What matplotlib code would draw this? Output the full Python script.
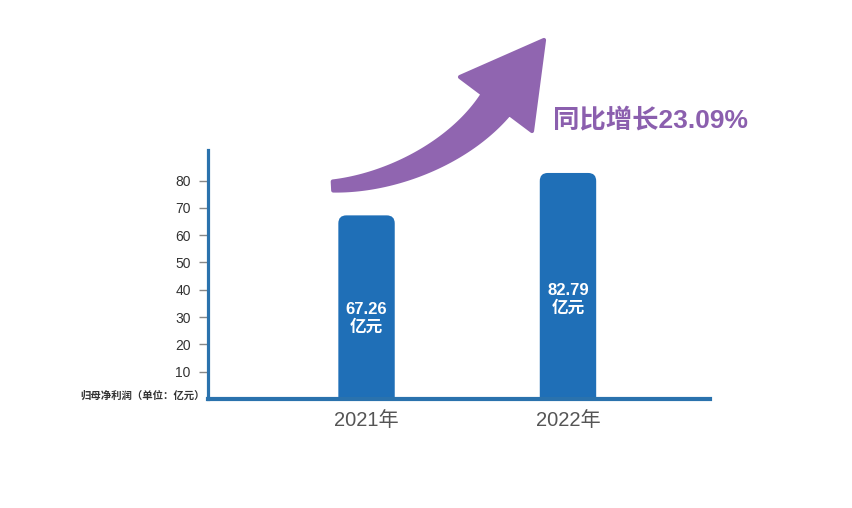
import numpy as np
import matplotlib
matplotlib.use("Agg")
import matplotlib.pyplot as plt
from matplotlib.patches import FancyBboxPatch, Polygon

plt.rcParams['font.family'] = ['Liberation Sans', 'Noto Sans CJK SC', 'DejaVu Sans']

# chart data
years = ['2021年', '2022年']
profit = [67.26, 82.79]
bar_labels = ['67.26\n亿元', '82.79\n亿元']
y_ticks = [10, 20, 30, 40, 50, 60, 70, 80]
unit_label = '归母净利润（单位：亿元）'
growth_label = '同比增长23.09%'

BAR_COLOR = '#1f6fb7'
AXIS_COLOR = '#2a72ad'
PURPLE = '#9065b0'

W, H = 852, 508
fig = plt.figure(figsize=(W / 100, H / 100), dpi=100)
ax = fig.add_axes([208 / W, 1 - 399 / H, (710 - 208) / W, (399 - 150) / H])

x = np.arange(len(years))
xlim = (-0.787, 1.705)
ylim = (0, 91.2)
ax.set_xlim(*xlim)
ax.set_ylim(*ylim)

# plain bars first, then swap them for rounded-top boxes
bars = ax.bar(x, profit, width=0.28, color=BAR_COLOR)
px_x = ax.bbox.width / (xlim[1] - xlim[0])
px_y = ax.bbox.height / (ylim[1] - ylim[0])
aspect = px_x / px_y
radius = 8 / px_x
for b in bars:
    x0, w, h = b.get_x(), b.get_width(), b.get_height()
    b.remove()
    ax.add_patch(FancyBboxPatch((x0, -5), w, h + 5,
                                boxstyle=f"round,pad=0,rounding_size={radius}",
                                mutation_aspect=aspect, facecolor=BAR_COLOR,
                                edgecolor='none', zorder=2))

for xi, v, lab in zip(x, profit, bar_labels):
    ax.text(xi, v * 0.44, lab, ha='center', va='center', color='white',
            fontsize=12, fontweight='bold', linespacing=1.15, zorder=3)

for side in ['top', 'right']:
    ax.spines[side].set_visible(False)
ax.spines['left'].set_color(AXIS_COLOR)
ax.spines['left'].set_linewidth(2.3)
ax.spines['bottom'].set_color(AXIS_COLOR)
ax.spines['bottom'].set_linewidth(3)
ax.spines['bottom'].set_zorder(4)

ax.set_yticks(y_ticks)
ax.tick_params(axis='y', length=6.5, width=1, color='#888888', pad=6,
               labelsize=10, labelcolor='#333333')
ax.set_xticks(x, years)
ax.tick_params(axis='x', length=0, pad=9, labelsize=14.5, labelcolor='#555555')

ax.text(-0.006, 1.2, unit_label, transform=ax.get_yaxis_transform(),
        ha='right', va='center', fontsize=7.5, fontweight='bold', color='#333333')

# overlay in pixel coordinates for the growth arrow
ov = fig.add_axes([0, 0, 1, 1])
ov.set_xlim(0, W)
ov.set_ylim(H, 0)
ov.axis('off')

P0 = np.array([333.0, 186.0])
P1 = np.array([392.0, 183.0])
P2 = np.array([460.0, 152.0])
P3 = np.array([496.0, 104.0])
t = np.linspace(0, 1, 100)[:, None]
c = ((1 - t) ** 3 * P0 + 3 * (1 - t) ** 2 * t * P1
     + 3 * (1 - t) * t ** 2 * P2 + t ** 3 * P3)
d = (3 * (1 - t) ** 2 * (P1 - P0) + 6 * (1 - t) * t * (P2 - P1)
     + 3 * t ** 2 * (P3 - P2))
d = d / np.linalg.norm(d, axis=1, keepdims=True)
n = np.column_stack([-d[:, 1], d[:, 0]])
hw = 4.5 + 12.0 * t[:, 0]
side_a = c + n * hw[:, None]
side_b = c - n * hw[:, None]
dE, nE = d[-1], n[-1]
left_wing = P3 - nE * 45
right_wing = P3 + nE * 45
tip = P3 + dE * 80
verts = np.vstack([side_b, left_wing, tip, right_wing, side_a[::-1]])
ov.add_patch(Polygon(verts, closed=True, facecolor=PURPLE, edgecolor=PURPLE,
                     linewidth=3, joinstyle='round'))

ov.text(553, 120, growth_label, ha='left', va='center', fontsize=19,
        fontweight='bold', color='#8b5fae')

fig.savefig('out.png', dpi=100)
